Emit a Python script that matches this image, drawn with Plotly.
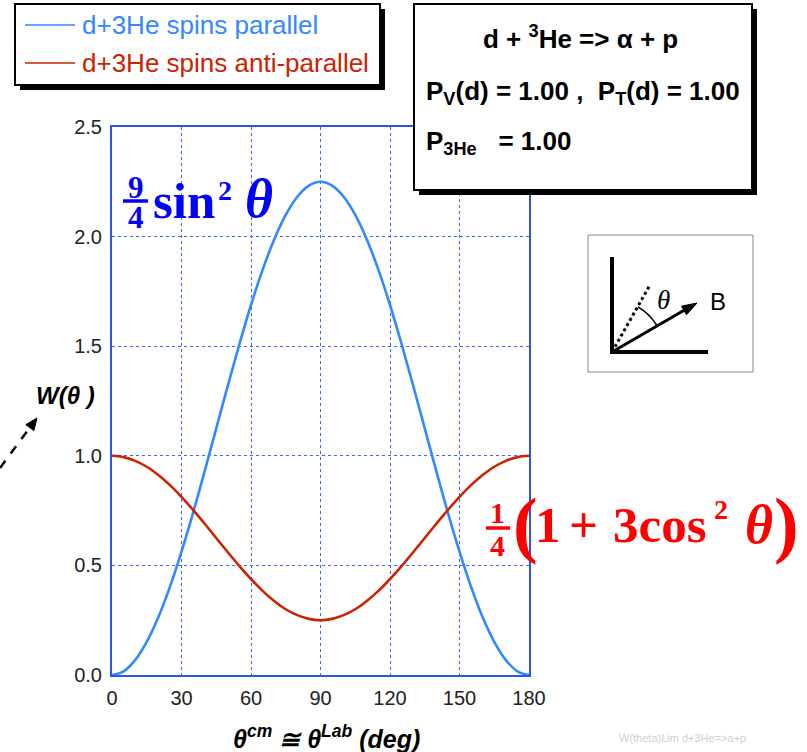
import numpy as np
import plotly.graph_objects as go

# ---------------- data ----------------
theta_deg = [0, 5, 10, 15, 20, 25, 30, 35, 40, 45, 50, 55, 60, 65, 70, 75, 80, 85, 90,
             95, 100, 105, 110, 115, 120, 125, 130, 135, 140, 145, 150, 155, 160, 165, 170, 175, 180]
w_parallel = [0.000, 0.017, 0.068, 0.151, 0.263, 0.402, 0.563, 0.740, 0.930, 1.125, 1.320, 1.510,
              1.688, 1.848, 1.987, 2.099, 2.182, 2.233, 2.250, 2.233, 2.182, 2.099, 1.987, 1.848,
              1.688, 1.510, 1.320, 1.125, 0.930, 0.740, 0.563, 0.402, 0.263, 0.151, 0.068, 0.017, 0.000]
w_antiparallel = [1.000, 0.994, 0.977, 0.950, 0.912, 0.866, 0.813, 0.753, 0.690, 0.625, 0.560, 0.497,
                  0.438, 0.384, 0.338, 0.300, 0.273, 0.256, 0.250, 0.256, 0.273, 0.300, 0.338, 0.384,
                  0.438, 0.497, 0.560, 0.625, 0.690, 0.753, 0.813, 0.866, 0.912, 0.950, 0.977, 0.994, 1.000]
x_ticks = [0, 30, 60, 90, 120, 150, 180]
y_ticks = [0.0, 0.5, 1.0, 1.5, 2.0, 2.5]
y_tick_labels = ["0.0", "0.5", "1.0", "1.5", "2.0", "2.5"]
series_names = ["d+3He spins parallel", "d+3He spins anti-parallel"]
series_colors = ["#3388ff", "#cc2200"]

# ---------------- layout geometry ----------------
FIG_W, FIG_H = 807, 752
L, R, T, B = 112, 529, 127, 675
SANS = "Arial, Liberation Sans, sans-serif"
SERIF = "Times New Roman, Liberation Serif, serif"
FRAME = "#2a55e6"
GRID = "#3a66ff"


def px(x):
    return (x - L) / (R - L)


def py(y):
    return (B - y) / (B - T)


fig = go.Figure()
for name, vals, col in zip(series_names, [w_parallel, w_antiparallel], series_colors):
    fig.add_trace(go.Scatter(x=theta_deg, y=vals, mode="lines", name=name,
                             line=dict(color=col, width=2.6, shape="spline"),
                             showlegend=False))

shapes = []
annotations = []


def text(x, y, s, size, color="black", family=SANS, xanchor="center", yanchor="middle"):
    annotations.append(dict(x=px(x), y=py(y), xref="paper", yref="paper", text=s,
                            showarrow=False, xanchor=xanchor, yanchor=yanchor,
                            font=dict(size=size, color=color, family=family)))


def line(x0, y0, x1, y1, color="black", width=2, dash="solid"):
    shapes.append(dict(type="line", xref="paper", yref="paper", x0=px(x0), y0=py(y0),
                       x1=px(x1), y1=py(y1), line=dict(color=color, width=width, dash=dash),
                       layer="above"))


def poly(points, color="black", width=1.5, fill=None, close=False):
    path = "M " + " L ".join(f"{px(a):.5f},{py(b):.5f}" for a, b in points)
    if close:
        path += " Z"
    d = dict(type="path", xref="paper", yref="paper", path=path,
             line=dict(color=color, width=width), layer="above")
    if fill:
        d["fillcolor"] = fill
    shapes.append(d)


def arrowhead(tip, tail, length=13, half=5):
    tx, ty = tip
    dx, dy = tip[0] - tail[0], tip[1] - tail[1]
    n = np.hypot(dx, dy)
    ux, uy = dx / n, dy / n
    bx, by = tx - length * ux, ty - length * uy
    poly([(tx, ty), (bx + half * uy, by - half * ux), (bx - half * uy, by + half * ux)],
         width=1, fill="black", close=True)


def box(x0, y0, x1, y1, border="black", bw=2, shadow=0):
    if shadow:
        shapes.append(dict(type="rect", xref="paper", yref="paper",
                           x0=px(x0 + shadow), y0=py(y0 + shadow), x1=px(x1 + shadow), y1=py(y1 + shadow),
                           fillcolor="black", line=dict(width=0), layer="above"))
    shapes.append(dict(type="rect", xref="paper", yref="paper", x0=px(x0), y0=py(y0),
                       x1=px(x1), y1=py(y1), fillcolor="white",
                       line=dict(color=border, width=bw), layer="above"))


# legend box
box(15, 4, 380, 85, shadow=5)
for i, (name, col) in enumerate(zip(series_names, series_colors)):
    yy = 25 + 38 * i
    line(25, yy, 75, yy, color=col, width=1.5)
    text(80, yy, name, 26, color=col, xanchor="left")

# info box
box(414, 4, 752, 190, shadow=5)
text(580, 38, "<b>d + <sup>3</sup>He =&gt; α + p</b>", 26)
text(424, 93, "<b>P<sub>V</sub>(d) = 1.00 ,&nbsp;&nbsp;P<sub>T</sub>(d) = 1.00</b>", 26, xanchor="left")
text(424, 143, "<b>P<sub>3He</sub>&nbsp;&nbsp;&nbsp;= 1.00</b>", 26, xanchor="left")

# diagram box
box(588, 235, 753, 372, border="#888888", bw=1)
line(612, 257, 612, 354, width=4)
line(610, 352, 708, 352, width=4)
line(612, 352, 650, 285, width=3, dash="dot")
ang = np.radians(np.linspace(30, 60, 12))
poly([(612 + 52 * np.cos(a), 352 - 52 * np.sin(a)) for a in ang], width=1.5)
line(612, 352, 688, 308, width=3)
arrowhead((697, 303), (612, 352), length=15, half=5)
text(663, 300, "<i>θ</i>", 27, family=SERIF)
text(718, 301, "B", 24)

# W(theta) label and dashed arrow
text(65, 395, "<b><i>W(θ )</i></b>", 24)
line(0, 468, 31, 426, width=2.5, dash="dash")
arrowhead((37, 418), (0, 468), length=12, half=5)

# x axis title
text(326, 737, "<b><i>θ<sup>cm</sup> ≅ θ<sup>Lab</sup> (deg)</i></b>", 25)

# watermark
text(682, 738, "W(theta)Lim d+3He=&gt;a+p", 11, color="#d0d0d0")

# blue formula 9/4 sin^2 theta
BLUE = "#0000ff"
text(136, 187, "<b>9</b>", 31, color=BLUE, family=SERIF)
line(123, 201, 148, 201, color=BLUE, width=3.5)
text(136, 217, "<b>4</b>", 31, color=BLUE, family=SERIF)
text(151, 201, "<b>sin</b>", 51, color=BLUE, family=SERIF, xanchor="left")
text(225, 190, "<b>2</b>", 28, color=BLUE, family=SERIF)
text(259, 199, "<b><i>θ</i></b>", 54, color=BLUE, family=SERIF)

# red formula 1/4 (1 + 3 cos^2 theta)
RED = "#ff0000"
text(497, 512, "<b>1</b>", 30, color=RED, family=SERIF)
line(486, 528, 510, 528, color=RED, width=3.5)
text(497, 545, "<b>4</b>", 30, color=RED, family=SERIF)
text(525, 524, "<b>(</b>", 74, color=RED, family=SERIF)
text(548, 525, "<b>1</b>", 51, color=RED, family=SERIF)
text(583, 525, "<b>+</b>", 51, color=RED, family=SERIF)
text(611, 525, "<b>3cos</b>", 51, color=RED, family=SERIF, xanchor="left")
text(721, 509, "<b>2</b>", 28, color=RED, family=SERIF)
text(759, 525, "<b><i>θ</i></b>", 54, color=RED, family=SERIF)
text(786, 524, "<b>)</b>", 74, color=RED, family=SERIF)

axis_common = dict(showline=True, linecolor=FRAME, linewidth=2, mirror=True,
                   showgrid=True, gridcolor=GRID, gridwidth=1, griddash="dot",
                   zeroline=False, ticks="",
                   tickfont=dict(family=SANS, size=20, color="#222222"))
fig.update_layout(
    width=FIG_W, height=FIG_H,
    margin=dict(l=L, r=FIG_W - R, t=T, b=FIG_H - B, autoexpand=False),
    paper_bgcolor="white", plot_bgcolor="white",
    showlegend=False,
    xaxis=dict(range=[0, 180], tickvals=x_ticks, ticktext=[str(v) for v in x_ticks],
               ticklabelstandoff=4, **axis_common),
    yaxis=dict(range=[0, 2.5], tickvals=y_ticks, ticktext=y_tick_labels, ticklabelstandoff=4, **axis_common),
    shapes=shapes, annotations=annotations,
)
fig.write_html("out.html")
